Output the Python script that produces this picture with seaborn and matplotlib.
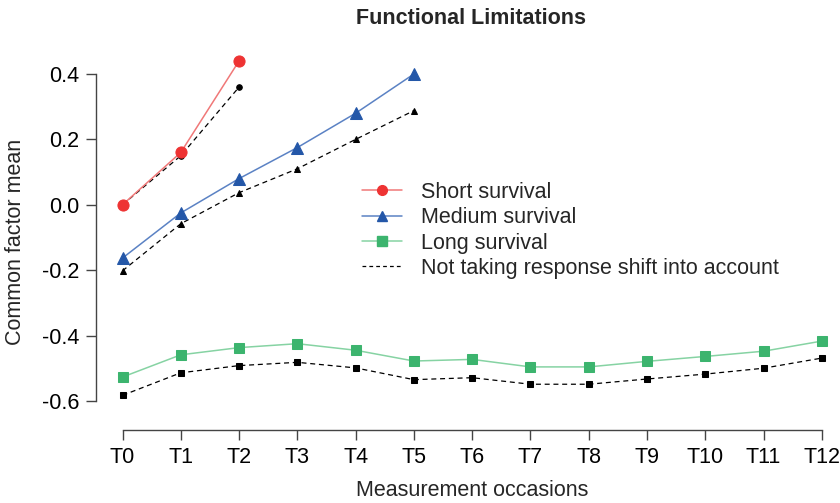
import pandas as pd
import numpy as np
import matplotlib
matplotlib.use("Agg")
import matplotlib.pyplot as plt
from matplotlib.lines import Line2D
import seaborn as sns

# -----------------------------
# Data
# -----------------------------
occasions = ["T0", "T1", "T2", "T3", "T4", "T5", "T6", "T7", "T8", "T9", "T10", "T11", "T12"]

short_rs = [0.00, 0.16, 0.44]
short_no = [0.00, 0.15, 0.36]

medium_rs = [-0.163, -0.025, 0.080, 0.175, 0.280, 0.400]
medium_no = [-0.202, -0.058, 0.037, 0.110, 0.200, 0.288]

long_rs = [-0.527, -0.459, -0.437, -0.425, -0.445, -0.478, -0.473,
           -0.496, -0.496, -0.479, -0.464, -0.448, -0.417]
long_no = [-0.583, -0.514, -0.492, -0.482, -0.499, -0.535, -0.529,
           -0.549, -0.549, -0.533, -0.518, -0.500, -0.469]

groups = ["Short survival", "Medium survival", "Long survival"]
marker_colors = ["#EE3333", "#2457A8", "#3CB46E"]
line_colors = ["#F07878", "#5B82C4", "#86D3A3"]
markers = ["o", "^", "s"]
marker_sizes = [8, 8.5, 7]

rows = []
for g, rs, no in zip(groups, [short_rs, medium_rs, long_rs], [short_no, medium_no, long_no]):
    for i, (a, b) in enumerate(zip(rs, no)):
        rows.append([g, i, a, b])
df = pd.DataFrame(rows, columns=["Group", "Occasion", "Mean_RS", "Mean_NoRS"])

# -----------------------------
# Plot
# -----------------------------
sns.set_style("ticks")
plt.rcParams["font.family"] = ["Liberation Sans", "DejaVu Sans"]

W, H = 840, 503
fig = plt.figure(figsize=(W / 100, H / 100), dpi=100)
ax = fig.add_axes([96 / W, 1 - 430 / H, (830 - 96) / W, (430 - 40) / H])

for g, mc, lc, m, ms in zip(groups, marker_colors, line_colors, markers, marker_sizes):
    sub = df[df["Group"] == g]
    sns.lineplot(data=sub, x="Occasion", y="Mean_NoRS", ax=ax, color="black",
                 linestyle=(0, (4, 3)), linewidth=0.9, marker=m, markersize=4,
                 markeredgecolor="black", markerfacecolor="black", zorder=2)
    sns.lineplot(data=sub, x="Occasion", y="Mean_RS", ax=ax, color=lc,
                 linewidth=1.1, marker=m, markersize=ms,
                 markeredgecolor=mc, markerfacecolor=mc, zorder=3)

ax.set_xlim(-0.455, 12.14)
ax.set_ylim(-0.689, 0.504)
ax.set_xticks(range(len(occasions)))
ax.set_xticklabels(occasions)
ax.set_yticks([0.4, 0.2, 0.0, -0.2, -0.4, -0.6])
ax.set_yticklabels(["0.4", "0.2", "0.0", "-0.2", "-0.4", "-0.6"])

for s in ["top", "right"]:
    ax.spines[s].set_visible(False)
ax.spines["left"].set_bounds(-0.6, 0.4)
ax.spines["bottom"].set_bounds(0, 12)
for s in ["left", "bottom"]:
    ax.spines[s].set_color("#444444")
    ax.spines[s].set_linewidth(1.0)
ax.tick_params(axis="both", labelsize=15.5, length=7.2, width=1.0, color="#444444",
               labelcolor="black", pad=5)
ax.set_xlabel("")
ax.set_ylabel("")

fig.text(472 / W, 1 - 490 / H, "Measurement occasions", ha="center", va="center",
         fontsize=15.5)
fig.text(16 / W, 1 - 242 / H, "Common factor mean", ha="center", va="center",
         rotation=90, fontsize=15.5)
fig.text(471 / W, 1 - 18 / H, "Functional Limitations", ha="center", va="center",
         fontsize=15.5, fontweight="bold")

handles = []
for g, mc, lc, m in zip(groups, marker_colors, line_colors, markers):
    handles.append(Line2D([], [], color=lc, linewidth=1.1, marker=m, markersize=7,
                          markerfacecolor=mc, markeredgecolor=mc))
handles.append(Line2D([], [], color="black", linewidth=0.9, linestyle=(0, (3, 2.5))))
labels = groups + ["Not taking response shift into account"]
ax.legend(handles, labels, loc="upper left", bbox_to_anchor=(362 / W, 1 - 182 / H),
          bbox_transform=fig.transFigure, frameon=False, fontsize=15.5,
          handlelength=1.86, handletextpad=0.88, labelspacing=0.2,
          borderaxespad=0, borderpad=0)

fig.savefig("out.png", dpi=100)
